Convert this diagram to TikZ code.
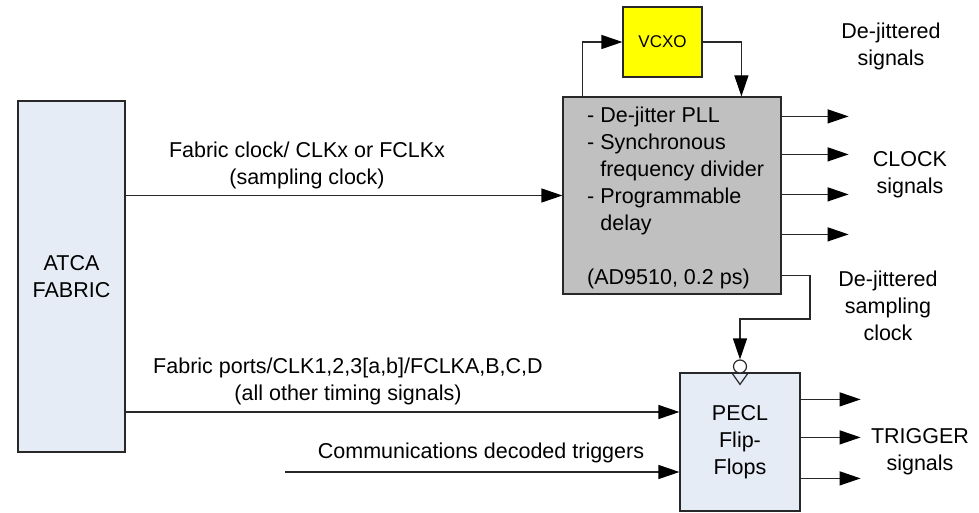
\documentclass[tikz,border=0pt]{standalone}
\usepackage{fontspec}
\setmainfont{Liberation Sans}
\usetikzlibrary{arrows.meta,calc}
\definecolor{linegray}{RGB}{40,40,40}
\definecolor{fabricblue}{RGB}{230,236,246}
\definecolor{pllgray}{RGB}{192,192,192}
\definecolor{xoyellow}{RGB}{255,255,0}
\begin{document}
\begin{tikzpicture}[x=1pt,y=-1pt,
  txt/.style={font=\fontsize{21.5}{27}\selectfont, align=center, inner sep=0pt},
  blk/.style={draw=linegray, line width=1.2pt, inner sep=0pt, txt},
  wire/.style={draw=linegray, line width=1.2pt},
  arr/.style={wire, -{Triangle[length=21pt,width=14pt,fill=black,color=black]}}]
\useasboundingbox (0,0) rectangle (979,513);

% blocks
\node[blk, fill=fabricblue, minimum width=107pt, minimum height=351pt] (atca) at (71.5,276.5) {ATCA\\FABRIC};
\node[blk, fill=pllgray, minimum width=218pt, minimum height=197pt] (pll) at (672,195.5) {};
\node[blk, fill=xoyellow, minimum width=79pt, minimum height=70pt, font=\fontsize{17}{20}\selectfont] (vcxo) at (662.5,42) {VCXO};
\node[blk, fill=fabricblue, minimum width=120pt, minimum height=138pt] (pecl) at (740,442) {PECL\\Flip-\\Flops};

% PLL description
\node[txt, align=left, anchor=north west] (plltxt) at (587,107)
  {- De-jitter PLL\\- Synchronous\\\hphantom{- }frequency divider\\- Programmable\\\hphantom{- }delay\\[27pt](AD9510, 0.2 ps)};

% clock input bubble and edge marker on the flip-flops
\node[circle, draw=linegray, fill=white, line width=1.2pt, minimum size=13pt, inner sep=0pt] (bubble) at (740,366.5) {};
\draw[wire, line join=miter] ($(pecl.north)+(-8.5,0)$) -- ($(pecl.north)+(0,12)$) -- ($(pecl.north)+(8.5,0)$);

% VCXO loop
\draw[arr] ($(pll.north west)+(20,0)$) |- (vcxo.west);
\draw[arr] (vcxo.east) -| ($(pll.north west)+(179,0)$);

% fabric clock into the PLL
\draw[arr] (atca.east |- pll.west) -- (pll.west);

% de-jittered clock outputs
\foreach \dy [count=\i] in {20,58,98,138} {
  \coordinate (clk\i) at ($(pll.north east)+(67,\dy)$);
  \draw[arr] (pll.east |- clk\i) -- (clk\i);
}

% de-jittered sampling clock to the flip-flops
\coordinate (smp) at ($(pll.south east)+(0,-19)$);
\coordinate (bend) at (810,319);
\draw[arr] (smp) -| (bend) -| (bubble.north);

% flip-flop inputs
\coordinate (ports) at ($(pecl.west)+(0,-30)$);
\coordinate (trigin) at ($(pecl.west)+(0,30)$);
\coordinate (comm) at (285,472);
\draw[arr] (atca.east |- ports) -- (ports);
\draw[arr] (comm) -- (trigin);

% trigger outputs
\foreach \dy [count=\i] in {27,65,106} {
  \coordinate (trg\i) at ($(pecl.north east)+(60,\dy)$);
  \draw[arr] (pecl.east |- trg\i) -- (trg\i);
}

% labels
\node[txt] (lclk) at (307,165) {Fabric clock/ CLKx or FCLKx\\(sampling clock)};
\node[txt] (lports) at (348,381) {Fabric ports/CLK1,2,3[a,b]/FCLKA,B,C,D\\(all other timing signals)};
\node[txt] (lcomm) at (481,453) {Communications decoded triggers};
\node[txt] (ldej) at (891,46) {De-jittered\\signals};
\node[txt] (lclock) at (910,175) {CLOCK\\signals};
\node[txt] (lsmp) at (888,306) {De-jittered\\sampling\\clock};
\node[txt] (ltrig) at (920,452) {TRIGGER\\signals};
\end{tikzpicture}
\end{document}
